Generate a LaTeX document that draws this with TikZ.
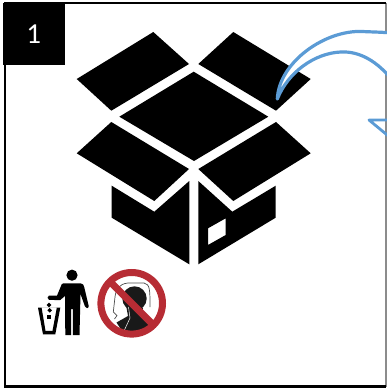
\documentclass[tikz,border=0pt]{standalone}
\usepackage{fontspec}
\setmainfont{Carlito}
\definecolor{ringred}{HTML}{B72C34}
\definecolor{arrowblue}{HTML}{5B9BD5}
\tikzset{
  boxpart/.style={fill=black,draw=none},
  frameline/.style={draw=black,line width=2.4pt},
  arrowline/.style={draw=arrowblue,line width=3.2pt,line join=round},
  tag/.style={fill=black,text=white,minimum size=62pt,inner sep=0pt,font=\fontsize{29}{29}\selectfont}
}
\begin{document}
\begin{tikzpicture}[x=1pt,y=-1pt]
\useasboundingbox (0,0) rectangle (387,390);
\clip (0,0) rectangle (387,390);
% frame
\draw[draw=black!45,line width=2pt] (386,3) -- (386,387);
\draw[frameline] (386,2.8) -- (4.7,2.8) -- (4.7,386.6) -- (386,386.6);
% box
\fill[boxpart] (153.3,32) -- (189,64) -- (111.3,110.7) -- (76.7,79) -- cycle;
\fill[boxpart] (233.3,32) -- (310.7,79) -- (276,110.7) -- (198.3,64) -- cycle;
\fill[boxpart] (193.7,71.7) -- (268.3,116.7) -- (194,161) -- (119.3,116.7) -- cycle;
\fill[boxpart] (111.3,122) -- (189,169) -- (154.3,201) -- (76.7,153.3) -- cycle;
\fill[boxpart] (276,122) -- (310.7,153.3) -- (233.3,201) -- (198.3,169) -- cycle;
\fill[boxpart] (111.7,185.7) -- (154.3,211.7) -- (189.3,181) -- (189.3,264.3) -- (111.7,217.7) -- cycle;
\fill[boxpart,even odd rule] (198.3,181) -- (232.3,211.7) -- (275.7,185.7) -- (275.7,217.7) -- (198.3,264.3) -- cycle
  (208,228.3) -- (225.7,218.3) -- (225.7,235) -- (208,245) -- cycle;
% curved arrow
\filldraw[arrowline,fill=white] (277.3,99) .. controls (279,62) and (325,30) .. (362,31.5) .. controls (372,32) and (380,32) .. (392,33)
  -- (392,80) .. controls (378,62) and (360,51) .. (341,52) .. controls (315,53) and (288,72) .. (277.3,99) -- cycle;
\draw[arrowline,line width=2.8pt] (392,120) -- (369,120) -- (392,139);
% tag
\node[tag,anchor=north west] (tag) at (2.5,3) {1};
% person with bin
\fill (72,275.2) circle (5.6);
\fill (63.5,283.3) -- (80.5,283.3) .. controls (83,283.3) and (83.7,285) .. (84.2,287) -- (88.7,306) .. controls (88.9,308.7) and (85.5,309) .. (85,306.5)
  -- (80.5,294) -- (79.5,335) -- (72.8,335) -- (72.8,309) -- (71.2,309) -- (71.2,335) -- (65.3,335) -- (65,296) -- (60,300.2) -- (49,299.8)
  .. controls (47,299.5) and (47,295.8) .. (49,295.6) -- (57,295.6) -- (60.8,286.5) .. controls (61.3,284.5) and (62,283.3) .. (63.5,283.3) -- cycle;
\fill[even odd rule] (38,307.7) -- (60.3,307.7) -- (55.3,334.3) -- (43,334.3) -- cycle
  (41.6,307.7) -- (56.8,307.7) -- (52.5,330.8) -- (45.5,330.8) -- cycle;
\fill (48.7,316.7) ++(-2,-2) rectangle ++(4,4);
\fill (46.7,305) -- ++(2.3,-2.3) -- ++(2.3,2.3) -- ++(-2.3,2.3) -- cycle;
\fill (47.4,310.3) -- ++(2.3,-2.3) -- ++(2.3,2.3) -- ++(-2.3,2.3) -- cycle;
% no-head sign
\draw[black!70,line width=.7pt] (115,297) .. controls (116,289) and (119,284) .. (128,283) -- (144,283) .. controls (150,284) and (150,290) .. (150,307);
\draw[black!70,line width=.7pt] (115,297) -- (113.3,312) -- (117,315.5) -- (114.5,319);
\fill[black!90] (134.5,298.5) circle (12.2);
\fill[black!90] (126,305) -- (143,308) -- (142,313) -- (149,318) -- (153,325) -- (137,336) -- (122,331) -- (116.5,322.5) -- (128,316) -- cycle;
\draw[white,line width=.5pt] (128.5,307) -- (130,318) -- (124,331);
\draw[ringred,line width=7pt] (131.7,303.3) circle (30.8);
\draw[ringred,line width=7pt] (110,281.6) -- (153.4,325);
\end{tikzpicture}
\end{document}
